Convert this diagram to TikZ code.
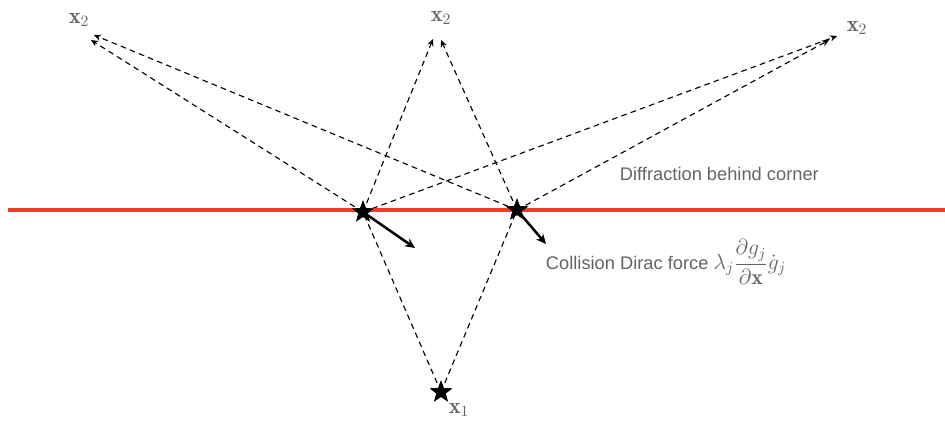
\documentclass[tikz,border=0pt]{standalone}
\usepackage{fix-cm}
\usepackage{amsmath}
\usepackage{fontspec}
\setsansfont{Liberation Sans}
\usetikzlibrary{shapes.geometric,arrows.meta}
\definecolor{wallred}{RGB}{232,65,42}
\definecolor{labelgray}{RGB}{100,100,100}

\begin{document}
\begin{tikzpicture}[x=0.025cm,y=-0.025cm,
    ray/.style={dash pattern=on 4pt off 3pt,line width=0.8pt,-{Stealth[length=5pt,width=4.5pt]}},
    seg/.style={dash pattern=on 4pt off 3pt,line width=0.8pt},
    cornerstar/.style={star,star points=5,star point ratio=2.4,fill=black,inner sep=0pt,minimum size=0.58cm},
    force/.style={line width=1.8pt,-{Stealth[length=7pt,width=6.5pt]}},
    lbl/.style={text=labelgray,font=\fontsize{13}{15}\selectfont},
    pt/.style={text=labelgray,font=\fontsize{16}{18}\selectfont}]
  \useasboundingbox (0,0) rectangle (945,424);

  % corners on the wall and the source
  \node[cornerstar] (ca) at (363,212) {};
  \node[cornerstar] (cb) at (517,210) {};
  \node[cornerstar] (src) at (441,392) {};

  % ray ends near x2
  \coordinate (la) at (91,40);
  \coordinate (lb) at (94,35);
  \coordinate (ma) at (433,39);
  \coordinate (mb) at (441,40);
  \coordinate (ra) at (837,36);
  \coordinate (rb) at (829,40);
  \coordinate (fa) at (415,248);
  \coordinate (fb) at (546,244);

  % labels
  \node[pt] (xl) at (79,20) {$\mathbf{x}_2$};
  \node[pt] (xm) at (441,18) {$\mathbf{x}_2$};
  \node[pt] (xr) at (857,28) {$\mathbf{x}_2$};
  \node[pt] (xs) at (459,410) {$\mathbf{x}_1$};
  \node[lbl,anchor=west] (diff) at (615,174) {\sffamily Diffraction behind corner};
  \node[lbl,anchor=west] (dirac) at (541,262) {\sffamily Collision Dirac force
    {\fontsize{15.5}{18}\selectfont$\lambda_j\dfrac{\partial g_j}{\partial\mathbf{x}}\dot{g}_j$}};

  % rays
  \draw[seg] (src.center) -- (ca.center);
  \draw[seg] (src.center) -- (cb.center);
  \draw[ray] (ca.center) -- (la);
  \draw[ray] (cb.center) -- (lb);
  \draw[ray] (ca.center) -- (ma);
  \draw[ray] (cb.center) -- (mb);
  \draw[ray] (ca.center) -- (ra);
  \draw[ray] (cb.center) -- (rb);

  % wall
  \draw[wallred,line width=2.8pt] (8,210) -- (945,210);

  % forces
  \draw[force] (ca.center) -- (fa);
  \draw[force] (cb.center) -- (fb);

  \node[cornerstar] at (ca) {};
  \node[cornerstar] at (cb) {};
  \node[cornerstar] at (src) {};
\end{tikzpicture}
\end{document}
